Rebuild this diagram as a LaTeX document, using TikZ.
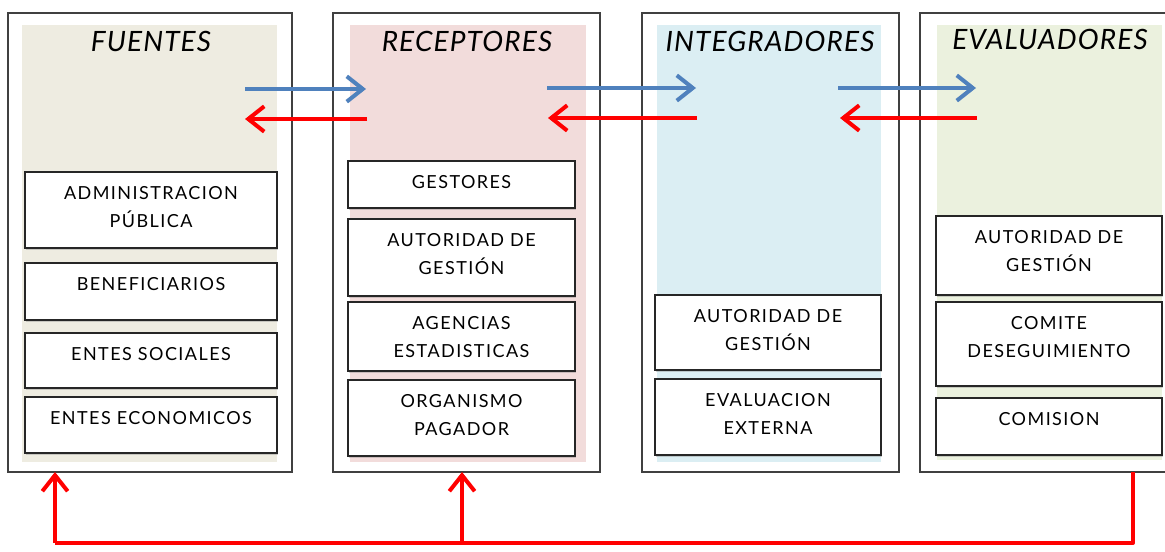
\documentclass[tikz,border=0pt]{standalone}
\usepackage{fontspec}
\setmainfont{Lato}
\newfontfamily\boxfont[LetterSpace=8]{Lato}
\newfontfamily\titlefont[LetterSpace=4]{Lato}
\usetikzlibrary{arrows.meta,shadows,calc}
\definecolor{fuenbg}{HTML}{EEECE1}
\definecolor{recebg}{HTML}{F2DCDB}
\definecolor{intebg}{HTML}{DBEEF3}
\definecolor{evalbg}{HTML}{EBF1DE}
\definecolor{arrblue}{HTML}{4F81BD}
\definecolor{arrred}{HTML}{FF0000}
\definecolor{framegray}{HTML}{404040}
\begin{document}
\begin{tikzpicture}[x=0.75pt,y=-0.75pt,
  panelframe/.style={draw=framegray,line width=1.1pt,fill=white},
  itembox/.style={draw=black!85,line width=1pt,fill=white,
    drop shadow={shadow xshift=0.9pt,shadow yshift=-1.2pt,opacity=0.35}},
  itemtxt/.style={anchor=north,inner sep=0pt,align=center,
    font=\boxfont\fontsize{13.5}{21}\selectfont},
  paneltitle/.style={inner sep=0pt,font=\titlefont\fontsize{21}{24}\selectfont\itshape},
  flowarrow/.style={line width=3pt,-{Straight Barb[length=12pt,width=19pt]}},
  bluearrow/.style={flowarrow,draw=arrblue},
  redarrow/.style={flowarrow,draw=arrred},
  feedline/.style={draw=arrred,line width=3pt},
]
\useasboundingbox (0,0) rectangle (1165,552);
\begin{scope}
\clip (0,0) rectangle (1165,552);
% panel frames
\draw[panelframe] (8,13) rectangle (292,472);
\draw[panelframe] (333,13) rectangle (600,472);
\draw[panelframe] (642,13) rectangle (899,472);
\draw[panelframe] (920,13) rectangle (1170,472);
\end{scope}
% coloured backgrounds
\fill[fuenbg] (22,25) rectangle (277,462);
\fill[recebg] (350,25) rectangle (586,462);
\fill[intebg] (657,25) rectangle (881,462);
\fill[evalbg] (937,25) rectangle (1162,460);
% titles
\node[paneltitle] (tF) at (151,41) {FUENTES};
\node[paneltitle] (tR) at (467,41) {RECEPTORES};
\node[paneltitle] (tI) at (770,41) {INTEGRADORES};
\node[paneltitle] (tE) at (1050,39) {EVALUADORES};

% boxes: helper macro
\newcommand{\itembx}[6]{% name, x1, y1, x2, y2, text
  \path[itembox] (#2,#3) rectangle (#4,#5);
  \node[itemtxt] (#1) at ({(#2+#4)/2},{#3+14}) {#6};
}
\itembx{f1}{25}{172}{277}{248}{ADMINISTRACION\\PÚBLICA}
\itembx{f2}{25}{263}{277}{320}{BENEFICIARIOS}
\itembx{f3}{25}{333}{277}{388}{ENTES SOCIALES}
\itembx{f4}{25}{397}{277}{453}{ENTES ECONOMICOS}

\itembx{r1}{348}{161}{575}{208}{GESTORES}
\itembx{r2}{348}{219}{575}{296}{AUTORIDAD DE\\GESTIÓN}
\itembx{r3}{348}{302}{575}{371}{AGENCIAS\\ESTADISTICAS}
\itembx{r4}{348}{380}{575}{456}{ORGANISMO\\PAGADOR}

\itembx{i1}{655}{295}{881}{370}{AUTORIDAD DE\\GESTIÓN}
\itembx{i2}{655}{379}{881}{455}{EVALUACION\\EXTERNA}

\itembx{e1}{936}{216}{1162}{295}{AUTORIDAD DE\\GESTIÓN}
\itembx{e2}{936}{302}{1162}{386}{COMITE\\DESEGUIMIENTO}
\itembx{e3}{936}{398}{1162}{455}{COMISION}

% arrow end points
\coordinate (fb1) at (245,89);  \coordinate (rb1) at (366,89);
\coordinate (rr1) at (367,119); \coordinate (fr1) at (245,119);
\coordinate (rb2) at (547,88);  \coordinate (ib2) at (696,88);
\coordinate (ir2) at (697,118); \coordinate (rr2) at (548,118);
\coordinate (ib3) at (838,88);  \coordinate (eb3) at (976,88);
\coordinate (er3) at (977,118); \coordinate (ir3) at (840,118);
\draw[bluearrow] (fb1) -- (rb1);
\draw[redarrow] (rr1) -- (fr1);
\draw[bluearrow] (rb2) -- (ib2);
\draw[redarrow] (ir2) -- (rr2);
\draw[bluearrow] (ib3) -- (eb3);
\draw[redarrow] (er3) -- (ir3);

% feedback loop
\coordinate (eOut) at (1133,472);
\coordinate (fIn) at (55,472);
\coordinate (rIn) at (462,472);
\coordinate (cR) at (1133,543);
\coordinate (cL) at (55,543);
\coordinate (cM) at (462,543);
\draw[feedline,line join=round] (eOut) -- (cR) -- (cL);
\draw[redarrow] (cL) -- (fIn);
\draw[redarrow] (cM) -- (rIn);
\end{tikzpicture}
\end{document}
